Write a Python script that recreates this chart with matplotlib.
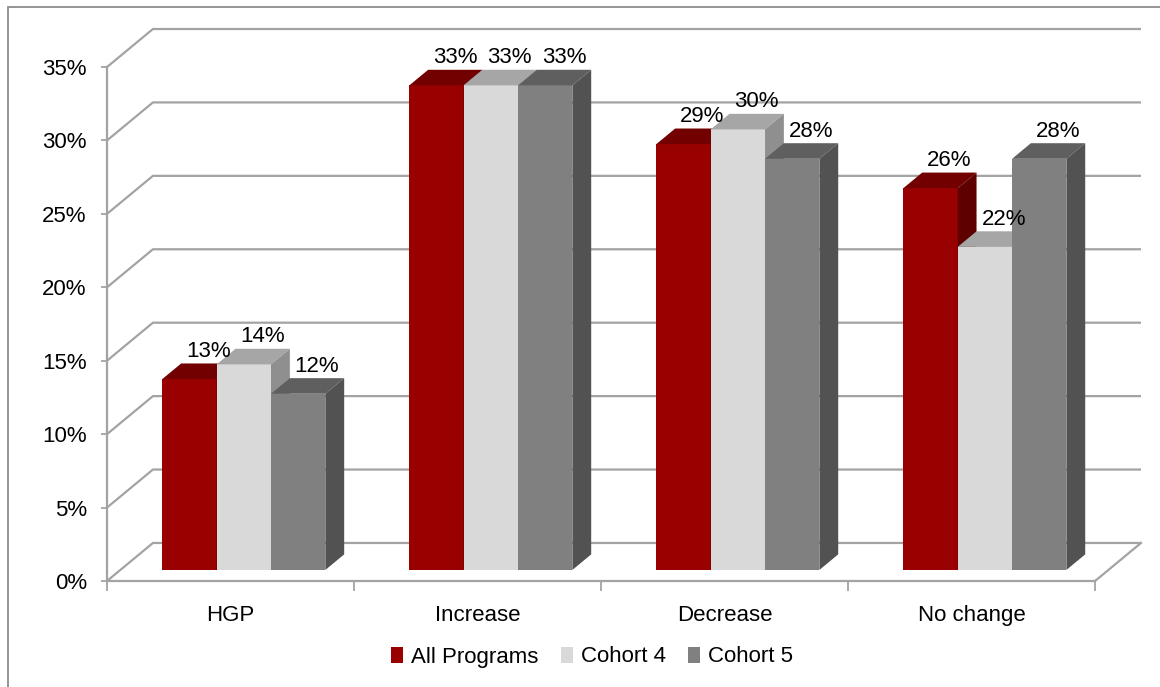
import numpy as np
import matplotlib
matplotlib.use('Agg')
import matplotlib.pyplot as plt
from matplotlib.patches import Polygon, Rectangle, Patch

plt.rcParams['font.family'] = ['Liberation Sans', 'DejaVu Sans']

# data
categories = ['HGP', 'Increase', 'Decrease', 'No change']
series = ['All Programs', 'Cohort 4', 'Cohort 5']
all_programs = [13, 33, 29, 26]
cohort4 = [14, 33, 30, 22]
cohort5 = [12, 33, 28, 28]
yticks = [0, 5, 10, 15, 20, 25, 30, 35]

values = [all_programs, cohort4, cohort5]
# front, top, side colours per series
face_cols = [('#990000', '#720000', '#5e0000'),
             ('#d9d9d9', '#a6a6a6', '#8f8f8f'),
             ('#808080', '#5f5f5f', '#525252')]

# oblique depth of the plot box (data units)
DX = 0.186
DY = 2.59
d0, d1 = 0.29, 0.70   # bar depth range
w = 0.22               # bar width
gap = (1 - 3 * w) / 2
fs = 16

def P(x, v, d):
    return (x + d * DX, v + d * DY)

fig = plt.figure(figsize=(11.6, 6.87), dpi=100)
ax = fig.add_axes([107/1160, (687-581)/687, 1034/1160, 552/687])
ax.set_xlim(0, 4 + DX)
ax.set_ylim(0, 35 + DY)

gcol = '#a3a3a3'
for v in yticks:
    ax.plot([0, DX, 4 + DX], [v, v + DY, v + DY], color=gcol, lw=1.6,
            clip_on=False, zorder=1, solid_capstyle='butt')
ax.plot([4, 4 + DX], [0, DY], color=gcol, lw=1.6, clip_on=False, zorder=1)

z = 3
for i in range(len(categories)):
    for j in range(3):
        v = values[j][i]
        x0 = i + gap + j * w
        fc, tc, sc = face_cols[j]
        fx, fy = P(x0, 0, d0)
        ax.bar(fx, v, width=w, bottom=fy, align='edge', color=fc,
               linewidth=0, zorder=z)
        top = [P(x0, v, d0), P(x0 + w, v, d0), P(x0 + w, v, d1), P(x0, v, d1)]
        side = [P(x0 + w, 0, d0), P(x0 + w, 0, d1), P(x0 + w, v, d1), P(x0 + w, v, d0)]
        ax.add_patch(Polygon(top, closed=True, facecolor=tc, lw=0, zorder=z + 0.1))
        ax.add_patch(Polygon(side, closed=True, facecolor=sc, lw=0, zorder=z + 0.1))
        lx, ly = P(x0 + w / 2, v, d1)
        ax.text(lx, ly + 0.1, f'{v}%', ha='center', va='bottom', fontsize=fs,
                zorder=20)
        z += 1

for s in ['top', 'right']:
    ax.spines[s].set_visible(False)
for s in ['left', 'bottom']:
    ax.spines[s].set_color(gcol)
    ax.spines[s].set_linewidth(1.6)
ax.spines['left'].set_bounds(0, 35)
ax.spines['bottom'].set_bounds(0, 4)

ax.set_yticks(yticks)
ax.set_yticklabels([f'{v}%' for v in yticks], fontsize=fs)
ax.tick_params(axis='y', length=4.5, width=1.3, color=gcol, pad=10)
ax.set_xticks(np.arange(5))
ax.set_xticklabels([])
ax.tick_params(axis='x', which='major', length=7, width=1.3, color=gcol)
ax.set_xticks(np.arange(4) + 0.5, minor=True)
ax.set_xticklabels(categories, minor=True, fontsize=fs)
ax.tick_params(axis='x', which='minor', length=0, pad=17)

handles = [Patch(facecolor=face_cols[j][0], edgecolor='none', label=series[j])
           for j in range(3)]
fig.legend(handles=handles, loc='center', bbox_to_anchor=(592/1160, 1 - 657/687),
           ncol=3, frameon=False, fontsize=fs, handlelength=0.55,
           handleheight=0.75, handletextpad=0.35, columnspacing=1.0)

fig.add_artist(Rectangle((8/1160, -0.1), 2, 1.1 - 7/687, transform=fig.transFigure,
                         fill=False, edgecolor='#8c8c8c', lw=1.3))

fig.savefig('out.png', dpi=100)
